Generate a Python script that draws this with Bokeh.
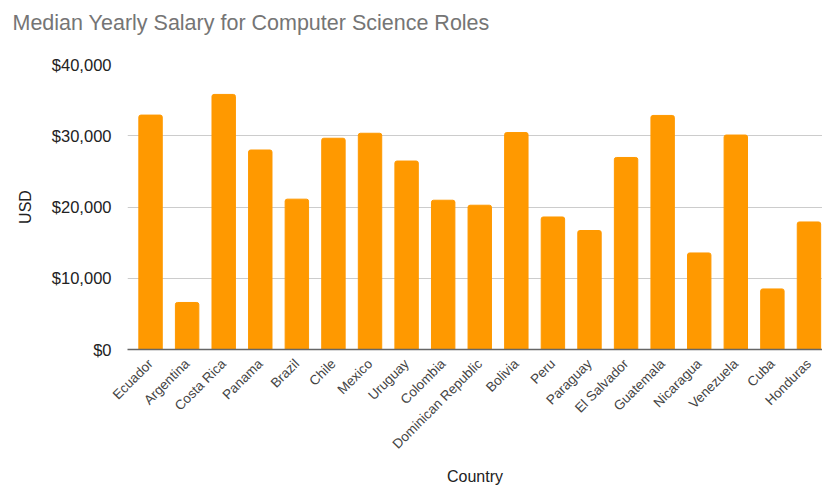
import math
from bokeh.plotting import figure
from bokeh.models import NumeralTickFormatter, FixedTicker, ColumnDataSource, Range1d, Title
from bokeh.embed import file_html
from bokeh.resources import INLINE

countries = ["Ecuador", "Argentina", "Costa Rica", "Panama", "Brazil", "Chile", "Mexico",
             "Uruguay", "Colombia", "Dominican Republic", "Bolivia", "Peru", "Paraguay",
             "El Salvador", "Guatemala", "Nicaragua", "Venezuela", "Cuba", "Honduras"]
salaries = [32900, 6600, 35800, 28000, 21100, 29650, 30350, 26450, 20950, 20250, 30450,
            18600, 16700, 26950, 32850, 13550, 30100, 8500, 17900]
y_ticks = [0, 10000, 20000, 30000, 40000]
title_text = "Median Yearly Salary for Computer Science Roles"

FONT = "Liberation Sans"

idx = list(range(len(countries)))
src = ColumnDataSource(dict(i=idx, country=countries, salary=salaries))

p = figure(x_range=Range1d(-0.63, 18.37), y_range=Range1d(0, 40000), width=822, height=487,
           output_backend="svg", toolbar_location=None, title=title_text)

p.vbar(x="i", top="salary", width=0.64, source=src, color="#ff9900",
       border_radius={"top_left": 2, "top_right": 2, "bottom_left": 0, "bottom_right": 0})

p.min_border_left = 127
p.min_border_right = 0
p.min_border_top = 64
p.min_border_bottom = 0
p.outline_line_color = None
p.background_fill_color = "white"
p.border_fill_color = "white"

p.title.text_font = FONT
p.title.text_font_size = "21.5px"
p.title.text_font_style = "normal"
p.title.text_color = "#757575"
p.title.offset = -115
p.title.standoff = 18
p.title.vertical_align = "top"

# empty spacer between the title and the plot area
spacer = Title(text=" ", text_font_size="1px", standoff=16)
p.add_layout(spacer, "above")

p.yaxis.ticker = FixedTicker(ticks=y_ticks)
p.yaxis.formatter = NumeralTickFormatter(format="$0,0")
p.yaxis.axis_line_color = None
p.yaxis.major_tick_line_color = None
p.yaxis.minor_tick_line_color = None
p.yaxis.major_label_text_font = FONT
p.yaxis.major_label_text_font_size = "16.5px"
p.yaxis.major_label_text_color = "#222222"
p.yaxis.major_label_standoff = 10
p.yaxis.axis_label = "USD"
p.yaxis.axis_label_text_font = FONT
p.yaxis.axis_label_text_font_size = "16px"
p.yaxis.axis_label_text_font_style = "normal"
p.yaxis.axis_label_text_color = "#222222"
p.yaxis.axis_label_standoff = 15

p.xaxis.ticker = FixedTicker(ticks=idx)
p.xaxis.major_label_overrides = {i: c for i, c in zip(idx, countries)}
p.xaxis.axis_line_color = "#666666"
p.xaxis.axis_line_width = 1.5
p.xaxis.major_tick_line_color = None
p.xaxis.minor_tick_line_color = None
p.xaxis.major_label_orientation = math.pi / 4
p.xaxis.major_label_text_font = FONT
p.xaxis.major_label_text_font_size = "13.5px"
p.xaxis.major_label_text_color = "#444444"
p.xaxis.major_label_standoff = 6
p.xaxis.axis_label = "Country"
p.xaxis.axis_label_text_font = FONT
p.xaxis.axis_label_text_font_size = "16px"
p.xaxis.axis_label_text_font_style = "normal"
p.xaxis.axis_label_text_color = "#222222"
p.xaxis.axis_label_standoff = 8

p.xgrid.grid_line_color = None
p.ygrid.grid_line_color = "#cccccc"
p.ygrid.ticker = FixedTicker(ticks=y_ticks)

open("out.html", "w").write(file_html(p, INLINE))
